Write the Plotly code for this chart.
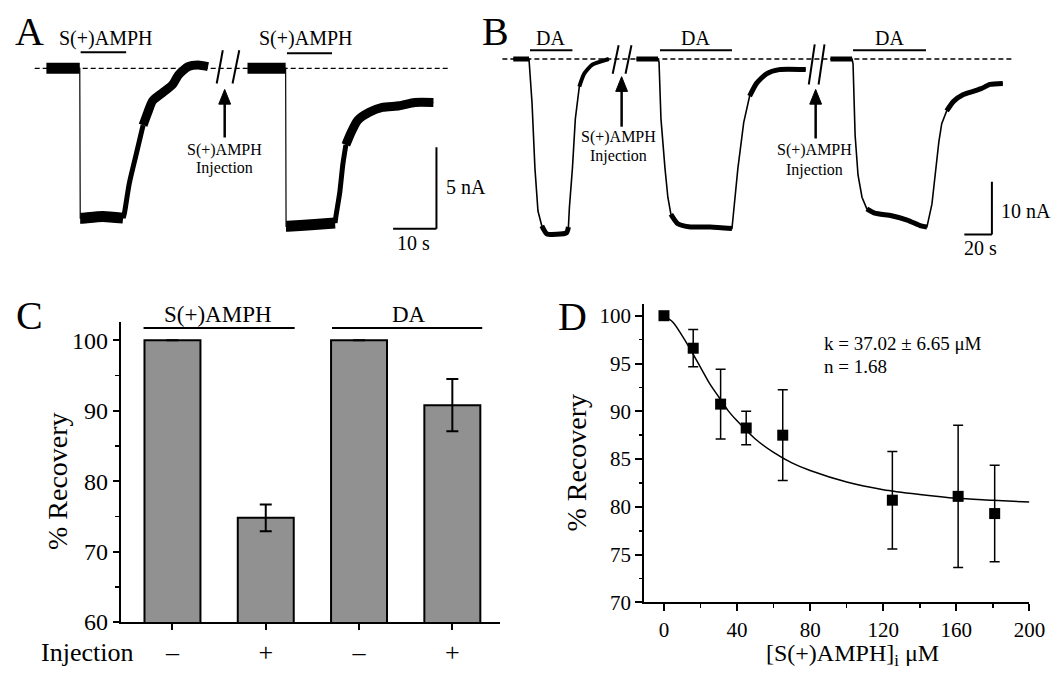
import plotly.graph_objects as go

W, H = 1063, 682
FONT = "Liberation Serif, Times New Roman, serif"

# ---------------- Panel A: whole-cell current traces (time s, current nA)
a1_t = [0, 7.7, 7.8, 8.2, 13, 17.7, 18, 19.1, 20.7, 22.3, 23.4, 24.5, 26.8, 29.1, 30.5, 32.7, 35, 37.3]
a1_i = [0, 0, -9.2, -9.2, -9.1, -9.2, -8.9, -7.1, -5.3, -3.5, -2.7, -2.0, -1.5, -1.0, -0.4, 0.1, 0.2, 0.1]
a2_t = [46.4, 55.2, 55.3, 55.7, 61.1, 66.6, 66.8, 67.7, 68.4, 69.1, 70.2, 71.8, 74.5, 77.5, 81.4, 85.0, 89.3]
a2_i = [0, 0, -9.7, -9.7, -9.6, -9.5, -9.1, -7.6, -5.9, -4.7, -4.0, -3.2, -2.7, -2.4, -2.3, -2.1, -2.1]

# ---------------- Panel B: DA-induced current traces (time s, current nA)
b1_t = [0, 11.4, 13.6, 15.7, 17.9, 20.7, 24.3, 31.4, 38.6, 40, 40.7, 42.9, 45, 47.9, 51.4, 57.1, 64.3, 69.3]
b1_i = [0, 0, -8.3, -20.6, -28.7, -31.5, -33.0, -33.1, -32.8, -31.7, -28.0, -20.6, -11.3, -5.2, -2.8, -1.1, -0.4, 0]
b2_t = [89.3, 105, 105.7, 107.1, 110, 112.1, 114.3, 119.3, 128.6, 142.9, 158.6, 160, 162.9, 167.1, 171.4, 176.4, 183.6, 192.9, 212.1]
b2_i = [0, 0, -0.6, -11.3, -20.6, -26.1, -29.3, -31.1, -31.7, -31.7, -32.0, -28.0, -20.6, -12.0, -7.0, -4.6, -2.8, -2.0, -2.0]
b3_t = [230, 245.7, 246.4, 247.9, 250, 252.9, 256.4, 262.1, 274.3, 285.7, 295.7, 300, 303.6, 306.4, 308.6, 310.7, 314.3, 319.3, 326.4, 333.6, 339.3, 345.7, 355]
b3_i = [0, 0, -0.9, -14.4, -21.9, -26.1, -28.3, -29.1, -29.6, -30.4, -31.5, -31.7, -27.4, -20.6, -15.7, -12.2, -9.8, -8.0, -6.7, -6.1, -5.6, -4.8, -4.6]

# ---------------- Panel C: bar chart
c_labels = ["\u2013", "+", "\u2013", "+"]
c_groups = ["S(+)AMPH", "DA"]
c_values = [100, 74.8, 100, 90.8]
c_errors = [0, 1.9, 0, 3.7]

# ---------------- Panel D: dose response
d_conc = [0, 16, 31, 45, 65, 125, 161, 181]
d_recovery = [100, 96.6, 90.75, 88.25, 87.5, 80.7, 81.1, 79.3]
d_err = [0, 1.95, 3.65, 1.75, 4.75, 5.1, 7.45, 5.05]
fit_conc = [0, 5, 10, 15, 20, 25, 30, 35, 40, 50, 60, 70, 80, 100, 120, 140, 160, 180, 200]
fit_recovery = [100, 99.3, 97.9, 96.3, 94.6, 92.9, 91.5, 90.1, 89.0, 87.1, 85.7, 84.6, 83.8, 82.6, 81.8, 81.3, 80.9, 80.7, 80.5]

# ---------------- geometry helpers (pixel layout)
def P(x, y):
    return x / W, 1 - y / H

# A axis: 4.4 px/s, 16.6 px/nA, t=0 at px 39, baseline py 61.5
A_XR = [-39 / 4.4, 441 / 4.4]
A_YR = [-(260 - 61.5) / 16.6, 61.5 / 16.6]
# B axis: 1.4 px/s, 5.4 px/nA, t=0 at px 513, baseline py 52
B_XR = [(480 - 513) / 1.4, (1063 - 513) / 1.4]
B_YR = [-(260 - 52) / 5.4, 52 / 5.4]

fig = go.Figure()

def add_trace_segments(t, i, xa, ya, thin_w, segs):
    fig.add_trace(go.Scatter(x=t, y=i, mode="lines", line=dict(color="black", width=thin_w),
                             xaxis=xa, yaxis=ya, showlegend=False, hoverinfo="skip"))
    for s, e, w in segs:
        fig.add_trace(go.Scatter(x=t[s:e + 1], y=i[s:e + 1], mode="lines",
                                 line=dict(color="black", width=w, shape="spline", smoothing=0.6),
                                 xaxis=xa, yaxis=ya, showlegend=False, hoverinfo="skip"))

add_trace_segments(a1_t, a1_i, "x", "y", 1.2, [(0, 1, 11), (2, 5, 11), (5, 9, 5), (9, 17, 9)])
add_trace_segments(a2_t, a2_i, "x", "y", 1.2, [(0, 1, 11), (2, 5, 11), (5, 9, 5), (9, 16, 9)])
add_trace_segments(b1_t, b1_i, "x2", "y2", 1.6, [(0, 1, 5), (5, 9, 5), (13, 17, 4)])
add_trace_segments(b2_t, b2_i, "x2", "y2", 1.6, [(0, 1, 5), (6, 10, 5), (14, 18, 5)])
add_trace_segments(b3_t, b3_i, "x2", "y2", 1.6, [(0, 1, 5), (6, 11, 5), (16, 22, 5)])

# Panel C bars
fig.add_trace(go.Bar(x=list(range(len(c_values))), y=c_values, width=0.6,
                     marker=dict(color="#919191", line=dict(color="black", width=2)),
                     error_y=dict(type="data", array=c_errors, color="black", thickness=2, width=6),
                     xaxis="x3", yaxis="y3", showlegend=False, hoverinfo="skip"))

# Panel D fit + data
fig.add_trace(go.Scatter(x=fit_conc, y=fit_recovery, mode="lines",
                         line=dict(color="black", width=1.5, shape="spline", smoothing=0.8),
                         xaxis="x4", yaxis="y4", showlegend=False, hoverinfo="skip"))
fig.add_trace(go.Scatter(x=d_conc, y=d_recovery, mode="markers",
                         marker=dict(symbol="square", size=11, color="black"),
                         error_y=dict(type="data", array=d_err, color="black", thickness=1.5, width=5),
                         xaxis="x4", yaxis="y4", showlegend=False, hoverinfo="skip", cliponaxis=False))

shapes = []
def seg(xref, yref, x0, y0, x1, y1, w=2, dash=None):
    d = dict(type="line", xref=xref, yref=yref, x0=x0, y0=y0, x1=x1, y1=y1,
             line=dict(color="black", width=w))
    if dash:
        d["line"]["dash"] = dash
    shapes.append(d)

def arrow_px(x, y_tip, y_tail, head_len=15, head_w=12, w=2.5):
    # shaft
    x0, y0 = P(x, y_tail)
    x1, y1 = P(x, y_tip + head_len - 1)
    shapes.append(dict(type="line", xref="paper", yref="paper", x0=x0, y0=y0, x1=x1, y1=y1,
                       line=dict(color="black", width=w)))
    ax, ay = P(x, y_tip)
    bx, by = P(x - head_w / 2, y_tip + head_len)
    cx, cy = P(x + head_w / 2, y_tip + head_len)
    shapes.append(dict(type="path", xref="paper", yref="paper",
                       path=f"M {ax},{ay} L {bx},{by} L {cx},{cy} Z",
                       fillcolor="black", line=dict(color="black", width=1)))

# A decorations (data coords of A)
seg("x", "y", -2.7, 0, 92.7, 0, 1.3, "5px,3px")
seg("x", "y", 7.9, 0.99, 18.4, 0.99, 2)
seg("x", "y", 55.5, 0.93, 65.9, 0.93, 2)
seg("x", "y", 39.3, -0.93, 40.7, 1.11, 2)
seg("x", "y", 42.95, -0.93, 44.5, 1.11, 2)
seg("x", "y", 90.0, -4.85, 90.0, -9.85, 2)   # 5 nA
seg("x", "y", 80.0, -9.85, 90.0, -9.85, 2)   # 10 s
arrow_px(220, 83, 132)

# B decorations
seg("x2", "y2", -7.9, 0, 361.4, 0, 1.3, "5px,3px")
seg("x2", "y2", 12.1, 1.67, 42.9, 1.67, 2)
seg("x2", "y2", 106.4, 1.67, 158.6, 1.67, 2)
seg("x2", "y2", 246.4, 1.67, 299.3, 1.67, 2)
seg("x2", "y2", 72.1, -2.78, 76.4, 2.59, 2)
seg("x2", "y2", 81.4, -2.78, 85.7, 2.59, 2)
seg("x2", "y2", 214.3, -4.81, 218.6, 2.78, 2)
seg("x2", "y2", 221.4, -4.81, 225.7, 2.78, 2)
seg("x2", "y2", 347.1, -23.15, 347.1, -33.15, 2)  # 10 nA
seg("x2", "y2", 327.1, -33.15, 347.1, -33.15, 2)  # 20 s
arrow_px(623, 70, 121)
arrow_px(820, 83, 133)

# C group lines
seg("x3", "y3", -0.31, 101.77, 1.31, 101.77, 2)
seg("x3", "y3", 1.71, 101.77, 3.32, 101.77, 2)

ann = []
def txt(x, y, s, size, xanchor="center", angle=0):
    px_, py_ = P(x, y)
    ann.append(dict(x=px_, y=py_, xref="paper", yref="paper", text=s, showarrow=False,
                    xanchor=xanchor, yanchor="middle", textangle=angle,
                    font=dict(family=FONT, size=size, color="black")))

# panel letters
txt(22, 24, "A", 40)
txt(495, 24, "B", 40)
txt(22, 313, "C", 40)
txt(573, 314, "D", 40)

# A texts
txt(99, 31, "S(+)AMPH", 20)
txt(303, 31, "S(+)AMPH", 20)
txt(220, 145, "S(+)AMPH", 16)
txt(220, 163, "Injection", 16)
txt(443, 182, "5 nA", 20, "left")
txt(412, 240, "10 s", 20)

# B texts
txt(551, 31, "DA", 20)
txt(698, 31, "DA", 20)
txt(895, 31, "DA", 20)
txt(620, 131, "S(+)AMPH", 16)
txt(620, 151, "Injection", 16)
txt(819, 145, "S(+)AMPH", 16)
txt(819, 165, "Injection", 16)
txt(1006, 207, "10 nA", 20, "left")
txt(987, 245, "20 s", 20)

# C texts
txt(213, 312, c_groups[0], 23)
txt(407, 312, c_groups[1], 23)
txt(51, 482, "% Recovery", 28, angle=-90)
txt(80, 657, "Injection", 26)

# D texts
txt(577, 463, "% Recovery", 28, angle=-90)
txt(857, 660, "[S(+)AMPH]<sub>i</sub> \u03bcM", 24)
txt(826, 342, "k = 37.02 \u00b1 6.65 \u03bcM", 19, "left")
txt(826, 365, "n = 1.68", 19, "left")

hidden = dict(visible=False, fixedrange=True, showgrid=False, zeroline=False)

axis_common = dict(showline=True, linewidth=2, linecolor="black", ticks="outside", tickwidth=2,
                   tickcolor="black", showgrid=False, zeroline=False, fixedrange=True)

fig.update_layout(
    width=W, height=H, autosize=False,
    margin=dict(l=0, r=0, t=0, b=0, pad=0),
    paper_bgcolor="white", plot_bgcolor="white",
    font=dict(family=FONT, color="black"),
    showlegend=False,
    xaxis=dict(domain=[0, 480 / W], range=A_XR, anchor="y", **hidden),
    yaxis=dict(domain=[1 - 260 / H, 1], range=A_YR, anchor="x", **hidden),
    xaxis2=dict(domain=[480 / W, 1], range=B_XR, anchor="y2", **hidden),
    yaxis2=dict(domain=[1 - 260 / H, 1], range=B_YR, anchor="x2", **hidden),
    xaxis3=dict(domain=[114.5 / W, 500 / W], range=[-0.554, 3.516], anchor="y3",
                tickvals=list(range(len(c_labels))), ticktext=c_labels, ticklen=6,
                tickfont=dict(family=FONT, size=26, color="black"), **axis_common),
    yaxis3=dict(domain=[1 - 626 / H, 1 - 320 / H], range=[60, 102.62], anchor="x3",
                tickvals=[60, 70, 80, 90, 100], ticklen=6,
                minor=dict(tick0=0, dtick=5, ticks="outside", ticklen=3.5, tickwidth=1.5, tickcolor="black"),
                tickfont=dict(family=FONT, size=24, color="black"), **axis_common),
    xaxis4=dict(domain=[646 / W, 1037 / W], range=[-10.78, 200], anchor="y4",
                tickvals=[0, 40, 80, 120, 160, 200], ticklen=7,
                minor=dict(tick0=0, dtick=20, ticks="outside", ticklen=3.5, tickwidth=1.5, tickcolor="black"),
                tickfont=dict(family=FONT, size=21, color="black"), **axis_common),
    yaxis4=dict(domain=[1 - 606 / H, 1 - 302 / H], range=[70, 101.2], anchor="x4",
                tickvals=[70, 75, 80, 85, 90, 95, 100], ticklen=7,
                minor=dict(tick0=0, dtick=2.5, ticks="outside", ticklen=3.5, tickwidth=1.5, tickcolor="black"),
                tickfont=dict(family=FONT, size=21, color="black"), **axis_common),
    shapes=shapes,
    annotations=ann,
    bargap=0,
)

fig.write_html("out.html", config={"displayModeBar": False, "staticPlot": True})
